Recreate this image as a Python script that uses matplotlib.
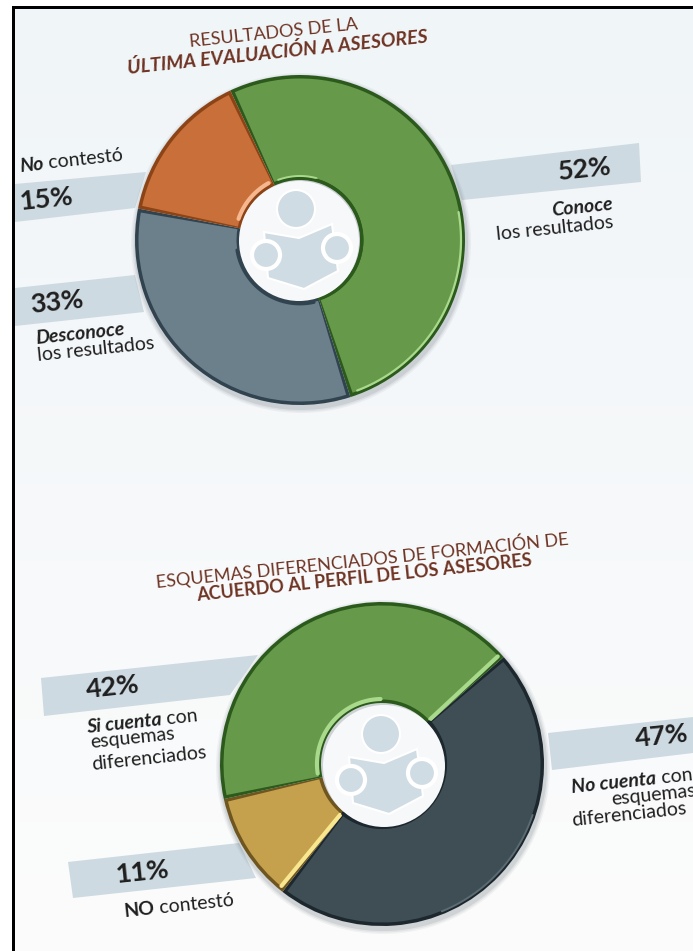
import numpy as np
import matplotlib
matplotlib.use("Agg")
import matplotlib.pyplot as plt
from matplotlib.patches import Wedge, Circle, Polygon

plt.rcParams['font.family'] = ['Lato', 'DejaVu Sans']

# Survey shares, in the clockwise order they run around each ring
eval_labels = ['Conoce', 'Desconoce', 'No contestó']
eval_shares = [52, 33, 15]
eval_start = 335
scheme_labels = ['No cuenta', 'NO contestó', 'Si cuenta']
scheme_shares = [47, 11, 42]
scheme_start = 48.7

eval_style = [
    dict(fill='#67994a', edge='#2b5a1c', light='#a9da8c'),
    dict(fill='#6c808c', edge='#30434f', light='#93a5b0'),
    dict(fill='#c96f39', edge='#8c4417', light='#f6b68e'),
]
scheme_style = [
    dict(fill='#3f4e55', edge='#1d282e', light='#5c6c74'),
    dict(fill='#c5a14d', edge='#6f5620', light='#f8e78f'),
    dict(fill='#67994a', edge='#2b5a1c', light='#a9da8c'),
]

BAND = '#cedae1'
ICON = '#d0dce4'
TEXT = '#1f1f1f'
TITLE = '#6e3323'
TILT = 6
LABEL_SIZE = 14
PCT_SIZE = 19.5

fig = plt.figure(figsize=(6.93, 9.51), dpi=100, facecolor='white')
ax = fig.add_axes([0, 0, 1, 1])
ax.set_xlim(0, 693)
ax.set_ylim(951, 0)
ax.axis('off')

# Pale page behind the frame, slightly cooler at the top
shade = np.linspace(0, 1, 256)[:, None, None]
top, bottom = np.array([0.941, 0.961, 0.973]), np.array([0.988, 0.988, 0.988])
ax.imshow(top + (bottom - top) * shade, extent=(15, 693, 951, 9), aspect='auto', zorder=0)
ax.set_xlim(0, 693)
ax.set_ylim(951, 0)
ax.fill_between([12, 693], 6, 9, color='black', lw=0, zorder=9)
ax.fill_between([12, 15], 6, 951, color='black', lw=0, zorder=9)


def polar(c, r, cw):
    a = np.radians(cw - 90)
    return c[0] + r * np.cos(a), c[1] + r * np.sin(a)


def arc(c, r, a, b, color, lw, alpha=1.0, z=5):
    t = np.linspace(a, b, 80)
    x, y = polar(c, r, t)
    ax.plot(x, y, color=color, lw=lw, alpha=alpha, solid_capstyle='round', zorder=z)


def spoke(c, r0, r1, a, color, lw, z=5):
    x0, y0 = polar(c, r0, a)
    x1, y1 = polar(c, r1, a)
    ax.plot([x0, x1], [y0, y1], color=color, lw=lw, solid_capstyle='round', zorder=z)


def ring(c, r, hole, shares, start, styles):
    # Soft drop shadow under the ring
    for grow, alpha in ((5, 0.05), (3.5, 0.07), (2, 0.1)):
        ax.add_patch(Circle((c[0] + 1, c[1] + 3), r + grow, color='#30404a', alpha=alpha, lw=0, zorder=2))
    spans = []
    a = start
    for share, st in zip(shares, styles):
        b = a + share * 3.6
        spans.append((a, b))
        ax.add_patch(Wedge(c, r, a - 90, b - 90, width=r - hole, fc=st['edge'], ec='none', zorder=3))
        ax.add_patch(Wedge(c, r - 3.5, a - 90 + 1.2, b - 90 - 1.2, width=r - hole - 7,
                           fc=st['fill'], ec='none', zorder=4))
        a = b
    return spans


def icon(c, radius, dx=0, dy=0):
    cx, cy = c[0] + dx, c[1] + dy
    ax.add_patch(Circle((cx, cy), radius, fc='#f7f8f9', ec='none', zorder=6))
    book = np.array([(-35, -9), (0, -3), (33, -17), (39, 30), (5, 48), (-31, 37)], float)
    ax.add_patch(Polygon(book + (cx, cy), closed=True, fc=ICON, ec='white', lw=1.5, zorder=7))
    ax.add_patch(Circle((cx - 3, cy - 32), 19, fc=ICON, ec='white', lw=1.5, zorder=7))
    ax.add_patch(Circle((cx + 38, cy + 7), 14, fc=ICON, ec='white', lw=3, zorder=8))
    ax.add_patch(Circle((cx - 33, cy + 14), 14, fc=ICON, ec='white', lw=3, zorder=8))


def mixed(x, y, parts, size=LABEL_SIZE, rot=TILT, color=TEXT):
    # Runs of differing weight set one after another along a tilted baseline
    renderer = fig.canvas.get_renderer()
    c, s = np.cos(np.radians(rot)), np.sin(np.radians(rot))
    for string, weight, style in parts:
        t = ax.text(x, y, string, fontsize=size, fontweight=weight, fontstyle=style, color=color,
                    rotation=0, ha='left', va='baseline', zorder=10)
        w = t.get_window_extent(renderer).width
        t.set_rotation(rot)
        t.set_rotation_mode('anchor')
        x += w * c
        y -= w * s


def band(pts):
    ax.add_patch(Polygon(pts, closed=True, fc=BAND, ec='none', zorder=1))


B = 'bold'
I = 'italic'
N = 'normal'

# Upper ring
c1 = (300, 240)
band([(451, 165), (639, 143), (641, 182), (462, 200)])
band([(15, 184), (146, 172), (135, 208), (15, 222)])
band([(15, 288), (135, 275), (144, 312), (15, 326)])
sp = ring(c1, 165, 60, eval_shares, eval_start, eval_style)
arc(c1, 161, sp[0][0] + 105, sp[0][1] - 3, eval_style[0]['light'], 1.6)
arc(c1, 64, sp[0][0] + 5, sp[0][0] + 40, eval_style[0]['light'], 1.4)
arc(c1, 65, sp[2][0] + 8, sp[2][1] - 4, eval_style[2]['light'], 3.0)
arc(c1, 64, sp[1][0] + 5, sp[1][1] - 20, eval_style[1]['edge'], 2.0)
arc(c1, 62, sp[0][0] + 40, sp[0][1], eval_style[0]['edge'], 2.0)
icon(c1, 60, -1, 1)

# Lower ring
c2 = (382, 764)
band([(41, 678), (258, 655), (230, 695), (44, 716)])
band([(548, 733), (693, 717), (693, 753), (552, 770)])
band([(68, 862), (239, 843), (256, 878), (73, 898)])
sp = ring(c2, 162, 61, scheme_shares, scheme_start, scheme_style)
arc(c2, 159, sp[0][0] + 60, sp[0][1] - 60, scheme_style[0]['light'], 1.4)
arc(c2, 65, sp[2][0] + 4, sp[2][1] - 50, scheme_style[2]['light'], 3.0)
spoke(c2, 66, 158, sp[2][1] - 1.6, scheme_style[2]['light'], 3.0)
spoke(c2, 66, 158, sp[1][0] + 1.6, scheme_style[1]['light'], 3.0)
arc(c2, 63, sp[0][0], sp[0][1], scheme_style[0]['edge'], 3.0)
icon(c2, 61, 2, 2)

# Headings
mixed(190, 47, [('RESULTADOS DE LA', N, N)], size=13, color=TITLE)
mixed(128, 74, [('ÚLTIMA EVALUACIÓN A ASESORES', B, I)], size=14, color=TITLE)
mixed(157, 588, [('ESQUEMAS DIFERENCIADOS DE FORMACIÓN DE', N, N)], size=13, color=TITLE)
mixed(197, 601, [('ACUERDO AL PERFIL DE LOS ASESORES', B, N)], size=13, color=TITLE)

# Upper ring labels
mixed(559, 180, [(f'{eval_shares[0]}%', B, N)], size=PCT_SIZE)
mixed(552, 216, [('Conoce', B, I)])
mixed(497, 240, [('los resultados', N, N)])
mixed(20, 172, [('No', B, I), (' contestó', N, N)])
mixed(20, 210, [(f'{eval_shares[2]}%', B, N)], size=PCT_SIZE)
mixed(31, 313, [(f'{eval_shares[1]}%', B, N)], size=PCT_SIZE)
mixed(36, 344, [('Desconoce', B, I)])
mixed(38, 361, [('los resultados', N, N)])

# Lower ring labels
mixed(87, 698, [(f'{scheme_shares[2]}%', B, N)], size=PCT_SIZE)
mixed(87, 733, [('Si cuenta', B, I), (' con', N, N)])
mixed(91, 748, [('esquemas', N, N)])
mixed(92, 770, [('diferenciados', N, N)])
mixed(636, 747, [(f'{scheme_shares[0]}%', B, N)], size=PCT_SIZE)
mixed(572, 793, [('No cuenta', B, I), (' con', N, N)])
mixed(612, 805, [('esquemas', N, N)])
mixed(572, 826, [('diferenciados', N, N)])
mixed(116, 883, [(f'{scheme_shares[1]}%', B, N)], size=PCT_SIZE)
mixed(124, 917, [('NO', B, N), (' contestó', N, N)])

fig.savefig('out.png', dpi=100)
